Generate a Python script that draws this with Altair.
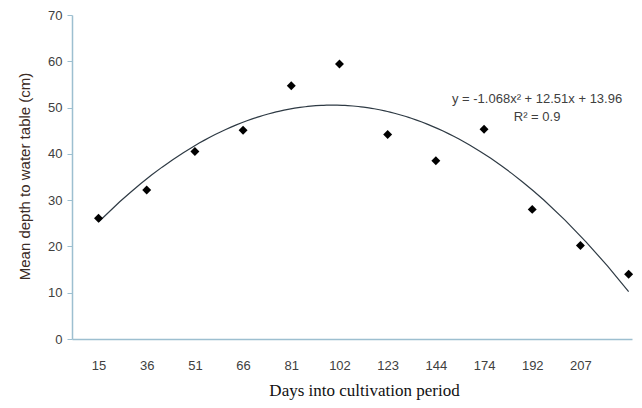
import json
import altair as alt
import pandas as pd

# Category labels (12th label is cut off in the reference)
day_labels = [15, 36, 51, 66, 81, 102, 123, 144, 174, 192, 207]
idx = [1, 2, 3, 4, 5, 6, 7, 8, 9, 10, 11, 12]
depth = [26.1, 32.2, 40.5, 45.1, 54.7, 59.4, 44.2, 38.5, 45.3, 28.0, 20.2, 14.0]

eq_lines = ["y = -1.068x\u00b2 + 12.51x + 13.96", "R\u00b2 = 0.9"]
eq_x = [10.1]
eq_y = [51.8]

df = pd.DataFrame({"idx": idx, "depth": depth})
ann = pd.DataFrame({"x": eq_x, "y": eq_y, "t": ["\n".join(eq_lines)]})

axis_col = "#9dbfd0"
label_col = "#404040"

x_scale = alt.Scale(domain=[0.45, 12.07], nice=False, zero=False)
y_scale = alt.Scale(domain=[0, 70], nice=False)

label_expr = json.dumps(day_labels) + "[datum.value - 1]"

x_axis = alt.Axis(
    values=idx[:11], labelExpr=label_expr, tickSize=0, labelPadding=20,
    labelFont="Liberation Sans", labelFontSize=13, labelColor=label_col,
    domainColor=axis_col, domainWidth=1.5, grid=False,
    title="Days into cultivation period", titleFont="Liberation Serif",
    titleFontSize=17, titleFontWeight="normal", titleColor="#111111",
    titleX=292, titleY=51, titleBaseline="middle", titleAlign="center",
)
y_axis = alt.Axis(
    values=[0, 10, 20, 30, 40, 50, 60, 70], tickSize=5, tickColor=axis_col,
    labelPadding=5, labelFont="Liberation Sans", labelFontSize=13,
    labelColor=label_col, domainColor=axis_col, domainWidth=1.5, grid=False,
    title="Mean depth to water table (cm)", titleFont="Liberation Sans",
    titleFontSize=15, titleFontWeight="normal", titleColor="#3b2b25",
    titleX=-48, titleY=161, titleAlign="center", titleBaseline="middle",
)

points = alt.Chart(df).mark_point(
    shape="diamond", filled=True, color="black", size=80, opacity=1
).encode(
    x=alt.X("idx:Q", scale=x_scale, axis=x_axis),
    y=alt.Y("depth:Q", scale=y_scale, axis=y_axis),
)

trend = alt.Chart(df).transform_regression(
    "idx", "depth", method="poly", order=2, extent=[1, 12]
).mark_line(color="#2e3a44", strokeWidth=1.2).encode(
    x=alt.X("idx:Q", scale=x_scale),
    y=alt.Y("depth:Q", scale=y_scale),
)

label = alt.Chart(ann).mark_text(
    font="Liberation Sans", fontSize=13, color=label_col, align="center",
    baseline="middle", lineBreak="\n", lineHeight=18
).encode(
    x=alt.X("x:Q", scale=x_scale),
    y=alt.Y("y:Q", scale=y_scale),
    text="t:N",
)

chart = alt.layer(trend, points, label).properties(
    width=560, height=324,
    autosize=alt.AutoSizeParams(type="none"),
    padding={"left": 64, "top": 7, "right": 2, "bottom": 61},
    background="white",
).configure_view(stroke=None)

chart.save("out.html", embed_options={"renderer": "svg", "actions": False})
